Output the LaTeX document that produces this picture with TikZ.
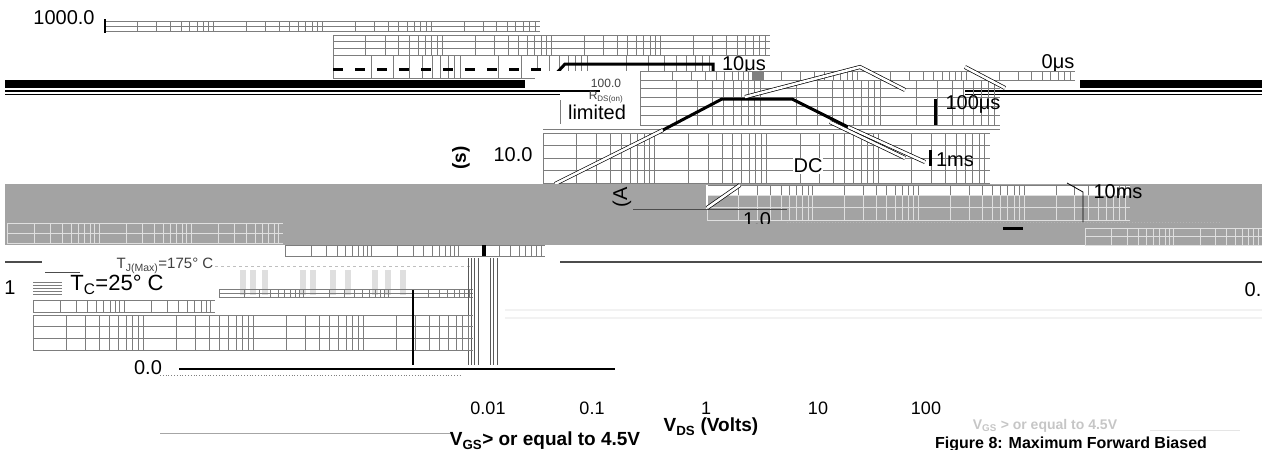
\documentclass[tikz,border=0pt]{standalone}
\usepackage{fontspec}
\setmainfont{Liberation Sans}
\usepackage{tikz}

\definecolor{bandgray}{RGB}{163,163,163}
\definecolor{gridgray}{RGB}{125,125,125}

% log grid strip: style, x0, x1, y0, y1, decades, rows
\newcommand{\logblock}[7]{%
  \pgfmathsetmacro{\dw}{(#3-#2)/#6}
  \foreach \d in {1,...,#6}{
    \foreach \k in {2,...,9}
      \draw[#1] ({#2+(\d-1)*\dw+\dw*log10(\k)},#4) -- ({#2+(\d-1)*\dw+\dw*log10(\k)},#5);
    \draw[#1] ({#2+(\d-1)*\dw},#4) -- ({#2+(\d-1)*\dw},#5);
  }
  \foreach \r in {0,...,#7}
    \draw[#1] (#2,{#4+\r*(#5-#4)/#7}) -- (#3,{#4+\r*(#5-#4)/#7});
}

\begin{document}
\begin{tikzpicture}[x=1pt, y=-1pt,
  lbl/.style={font=\fontsize{20}{23}\selectfont, inner sep=0pt},
  ticklbl/.style={font=\fontsize{18}{21}\selectfont, inner sep=0pt},
  boldlbl/.style={font=\bfseries\fontsize{19}{22}\selectfont, inner sep=0pt},
  gridln/.style={gridgray, line width=0.8pt},
  lightln/.style={gray!25, line width=0.8pt},
  soa/.style={black, line width=3pt},
  dbl/.style={black, line width=0.7pt, double=white, double distance=2.6pt}]
\useasboundingbox (0,0) rectangle (1262,450);
\clip (0,0) rectangle (1262,450);

% top strip
\node[lbl] (v1000) at (64,18) {1000.0};
\logblock{gridln}{105}{540}{21}{31}{4}{2}
\draw[black, line width=1.5pt] (105,19) -- (105,33);

% second block with the 10us limit
\logblock{gridln}{333}{770}{35}{55}{4}{3}
\logblock{gridln}{333}{715}{55}{78}{3}{1}
\draw[black, line width=3pt, dash pattern=on 10pt off 12pt] (333,69) -- (550,69);
\draw[soa] (553,77) -- (565,64) -- (713,64) -- (713,74);
\node[lbl] (p10us) at (744,65) {10μs};
\node[lbl] (p0us) at (1058,63) {0μs};
\fill[white] (535,71) rectangle (1075,80);
\logblock{gridln}{640}{1075}{71}{80}{4}{1}
\fill[gray] (752,72) rectangle (764,80);

% black bands
\fill[black] (5,80) rectangle (525,88);
\draw[black, line width=1.2pt] (5,91) -- (600,91);
\draw[black, line width=1.2pt] (5,94.5) -- (560,94.5);
\fill[black] (1080,80) rectangle (1262,88);
\draw[black, line width=1.2pt] (965,91) -- (1262,91);
\draw[black, line width=1.2pt] (965,94.5) -- (1262,94.5);

% middle grid
\logblock{gridln}{640}{1000}{80}{97}{3}{2}
\logblock{gridln}{640}{1000}{97}{125}{3}{3}
\draw[gridln] (543,129) -- (1000,129);
\logblock{gridln}{543}{990}{133}{183}{4}{4}
\node[font=\fontsize{12}{14}\selectfont, text=gray!50!black, inner sep=0pt] (v100) at (606,83) {100.0};
\node[font=\fontsize{12}{14}\selectfont, text=gray!50!black, inner sep=0pt] (rds) at (606,97) {R\textsubscript{DS(on)}};
\node[lbl, fill=white, inner sep=1pt] (lim) at (597,112) {limited};
\draw[gridln] (560,100) -- (560,124);
\node[boldlbl, rotate=90] (ylab) at (461,158) {(s)};
\node[lbl] (v10) at (513,155) {10.0};

% SOA boundaries
\draw[dbl] (555,184) -- (663,130);
\draw[soa] (663,130) -- (722,99) -- (792,99) -- (848,127);
\draw[dbl] (848,127) -- (925,162);
\draw[dbl] (830,122) -- (905,158);
\draw[dbl] (745,97) -- (860,67) -- (905,90);
\draw[dbl] (965,67) -- (1005,88);
\node[lbl] (p100us) at (973,104) {100μs};
\draw[black, line width=3pt] (935,99) -- (935,125);
\node[lbl, fill=white, inner sep=1pt] (dc) at (808,166) {DC};
\node[lbl] (p1ms) at (955,160) {1ms};
\draw[black, line width=3pt] (930,150) -- (930,166);

% gray band
\fill[bandgray] (5,184) rectangle (1262,245);
\fill[white] (707,185) rectangle (1130,195);
\logblock{gridln}{707}{1130}{185}{195}{4}{1}
\logblock{lightln}{707}{1130}{195}{220}{4}{2}
\logblock{lightln}{7}{283}{223}{243}{3}{2}
\logblock{lightln}{1085}{1262}{228}{245}{2}{2}
\draw[black!70, line width=0.8pt] (633,209) -- (787,209);
\draw[white, line width=1.5pt] (707,185) -- (707,209);
\draw[dbl] (707,208) -- (740,185);
\draw[black, line width=0.8pt] (1067,183) -- (1083,192) -- (1083,222);
\node[lbl] (p10ms) at (1118,192) {10ms};
\node[lbl, rotate=90] (ylab2) at (622,197) {(A};
\node[lbl] (v1) at (757,220) {1.0};
\fill[bandgray] (700,224) rectangle (800,245);
\draw[gray!60, dotted, line width=1pt] (787,222) -- (1222,222);
\fill[black] (1003,227) rectangle (1023,230);

% below the band
\fill[white] (285,245) rectangle (545,256);
\logblock{gridln}{285}{545}{245}{256}{3}{1}
\fill[black] (482,245) rectangle (486,256);
\draw[gray!60!black, line width=2.5pt] (5,262) -- (42,262);
\draw[gray!60!black, line width=2.5pt] (560,262) -- (1262,262);
\draw[gray!50, dashed] (215,266) -- (470,266);
\foreach \x in {240,250,262,300,310,330,345,372,385,400}
  \fill[gray!25] (\x,270) rectangle ++(6,25);
\node[font=\fontsize{15}{17}\selectfont, text=gray!50!black, inner sep=0pt] (tj) at (165,266) {T\textsubscript{J(Max)}=175° C};
\draw[gray!60!black, line width=1pt] (45,272) -- (80,272);
\node[lbl] (one) at (10,288) {1};
\foreach \y in {282,285,288,291,294}
  \draw[gridln] (33,\y) -- (62,\y);
\node[font=\fontsize{22}{25}\selectfont, inner sep=0pt] (tc) at (117,285) {T\textsubscript{C}=25° C};
\node[lbl] (zpt) at (1253,290) {0.};
\logblock{gridln}{219}{473}{289}{297}{3}{2}
\foreach \x in {468,471,474,478,490,493,497}
  \draw[gray!70!black, line width=0.7pt] (\x,258) -- (\x,365);

% lower grid
\logblock{gridln}{33}{215}{300}{312}{2}{1}
\logblock{gridln}{33}{473}{315}{350}{4}{3}
\draw[black, line width=2pt] (413,290) -- (413,365);
\draw[gray!10, line width=1.5pt] (505,310) -- (1262,310);
\draw[gray!10, line width=1.5pt] (505,318) -- (1262,318);

% axis
\node[lbl] (v0) at (148,368) {0.0};
\draw[black, line width=1.5pt] (179,369) -- (615,369);
\draw[gray, dotted, line width=0.8pt] (160,375) -- (460,375);
\node[ticklbl] (x001) at (488,408) {0.01};
\node[ticklbl] (x01) at (592,408) {0.1};
\node[ticklbl] (x1) at (706,408) {1};
\node[ticklbl] (x10) at (818,408) {10};
\node[ticklbl] (x100) at (926,408) {100};
\node[boldlbl] (xlab) at (711,427) {V\textsubscript{DS} (Volts)};

% notes
\draw[gray!70, line width=1pt] (160,433) -- (452,433);
\node[boldlbl] (vgs) at (545,441) {V\textsubscript{GS}> or equal to 4.5V};
\node[font=\bfseries\fontsize{14}{16}\selectfont, text=gray!45, inner sep=0pt] (vgs2) at (1045,426) {V\textsubscript{GS} > or equal to 4.5V};
\draw[gray!20, line width=1pt] (1150,430) -- (1240,430);
\node[font=\bfseries\fontsize{16}{18}\selectfont, inner sep=0pt, anchor=west] (cap) at (935,444) {Figure 8: Maximum Forward Biased};
\end{tikzpicture}
\end{document}
